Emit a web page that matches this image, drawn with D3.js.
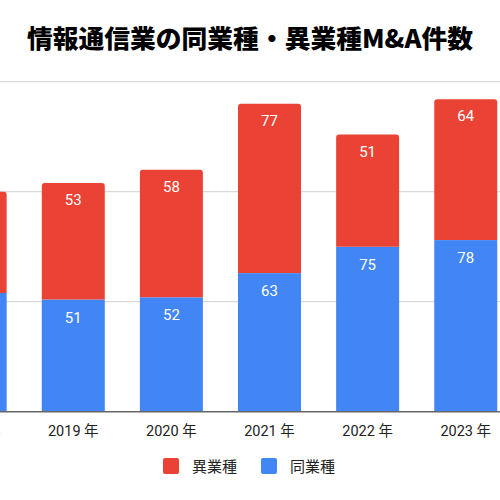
<!DOCTYPE html>
<html><head><meta charset="utf-8">
<script src="https://cdn.jsdelivr.net/npm/d3@7"></script>
<style>body{margin:0;background:#fff}svg{display:block}</style>
</head><body>
<svg id="c" width="500" height="500"></svg>
<script>
const years = ["2018 年","2019 年","2020 年","2021 年","2022 年","2023 年"];
const sameIndustry = [54, 51, 52, 63, 75, 78];
const crossIndustry = [46, 53, 58, 77, 51, 64];
const yTicks = [0, 50, 100, 150];
const seriesNames = ["異業種","同業種"];
const colors = {cross:"#EA4335", same:"#4285F4"};
const title = "情報通信業の同業種・異業種M&A件数";

const svg = d3.select("#c");
const font = "Roboto,'Noto Sans CJK JP',sans-serif";
const cjk = "'Noto Sans CJK JP','Noto Sans',sans-serif";

const x = d3.scaleBand().domain(years).range([-73.9, 514.8]).paddingInner(0.358).paddingOuter(0.179);
const y = d3.scaleLinear().domain([0,150]).range([411.7, 81.7]);

// gridlines
svg.append("g").selectAll("line").data(yTicks.filter(t=>t>0)).join("line")
  .attr("x1",0).attr("x2",500).attr("y1",d=>y(d)).attr("y2",d=>y(d))
  .attr("stroke","#d0d0d0").attr("stroke-width",1);

const data = years.map((yr,i)=>({yr, same:sameIndustry[i], cross:crossIndustry[i]}));

svg.append("g").selectAll("rect").data(data).join("rect")
  .attr("x",d=>x(d.yr)).attr("width",x.bandwidth())
  .attr("y",d=>y(d.same)).attr("height",d=>y(0)-y(d.same))
  .attr("fill",colors.same);

svg.append("g").selectAll("path").data(data).join("path")
  .attr("fill",colors.cross)
  .attr("d",d=>{
    const x0=x(d.yr), w=x.bandwidth(), t=y(d.same+d.cross), b=y(d.same), r=3;
    return `M${x0},${b}V${t+r}Q${x0},${t} ${x0+r},${t}H${x0+w-r}Q${x0+w},${t} ${x0+w},${t+r}V${b}Z`;
  });

const lab = svg.append("g").attr("font-family",font).attr("font-size",15).attr("fill","#fff").attr("text-anchor","middle");
lab.selectAll("text.s").data(data.slice(1)).join("text").attr("class","s")
  .attr("x",d=>x(d.yr)+x.bandwidth()/2).attr("y",d=>y(d.same)+23).text(d=>d.same);
lab.selectAll("text.c").data(data.slice(1)).join("text").attr("class","c")
  .attr("x",d=>x(d.yr)+x.bandwidth()/2).attr("y",d=>y(d.same+d.cross)+22).text(d=>d.cross);

const ax = svg.append("g").attr("transform",`translate(0,${y(0)})`)
  .call(d3.axisBottom(x).tickSize(0).tickPadding(14));
ax.select(".domain").attr("stroke","#666").attr("stroke-width",1.5).attr("d","M0,0H500");
ax.selectAll("text").attr("font-family",font).attr("font-size",14.5).attr("fill","#222");

const tt = svg.append("text").attr("x",250).attr("y",48).attr("text-anchor","middle")
  .attr("font-family",cjk).attr("font-weight",900).attr("font-size",25).attr("fill","#000")
  .text(title);
const w = tt.node().getComputedTextLength();
tt.attr("textLength",446).attr("lengthAdjust","spacingAndGlyphs");

const leg = [{name:seriesNames[0],c:colors.cross,x:163},{name:seriesNames[1],c:colors.same,x:261}];
const lg = svg.append("g");
lg.selectAll("rect").data(leg).join("rect").attr("x",d=>d.x).attr("y",458).attr("width",16).attr("height",16).attr("rx",2).attr("fill",d=>d.c);
lg.selectAll("text").data(leg).join("text").attr("x",d=>d.x+29).attr("y",471.5)
  .attr("font-family",cjk).attr("font-size",15).attr("fill","#222").text(d=>d.name);
</script>
</body></html>
